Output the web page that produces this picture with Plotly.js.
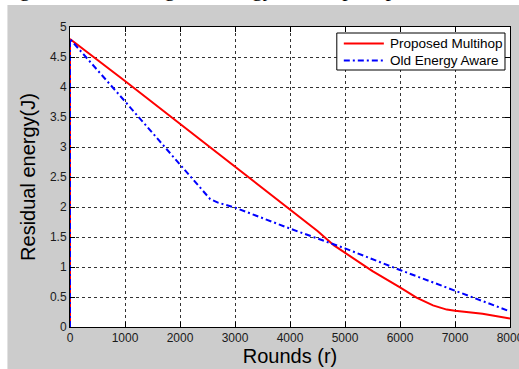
<!DOCTYPE html>
<html>
<head>
<meta charset="utf-8">
<script src="https://cdn.plot.ly/plotly-3.0.1.min.js"></script>
<style>html,body{margin:0;padding:0;background:#fff;}#chart{width:519px;height:369px;}</style>
</head>
<body>
<div id="chart"></div>
<script>
// Data
var multihopRounds = [0, 0, 1000, 2000, 3000, 4000, 4500, 4800, 5000, 5500, 6000, 6300, 6600, 6850, 7000, 7500, 8000];
var multihopEnergy = [0, 4.8, 4.1, 3.39, 2.68, 1.97, 1.6, 1.36, 1.24, 0.93, 0.66, 0.49, 0.36, 0.29, 0.27, 0.22, 0.14];

var oldRounds = [0, 0, 1000, 2000, 2300, 2550, 2700, 3000, 4000, 5000, 6000, 7000, 8000];
var oldEnergy = [0, 4.8, 3.76, 2.7, 2.4, 2.13, 2.07, 1.99, 1.64, 1.31, 0.95, 0.6, 0.26];

var seriesNames = ['Proposed Multihop', 'Old Energy Aware'];
var seriesColors = ['#ff0000', '#0000ff'];
var seriesDash = ['solid', '6px,3px,2px,3px'];

var xTicks = [0, 1000, 2000, 3000, 4000, 5000, 6000, 7000, 8000];
var yTicks = [0, 0.5, 1, 1.5, 2, 2.5, 3, 3.5, 4, 4.5, 5];

var traces = [
  {x: multihopRounds, y: multihopEnergy, type: 'scatter', mode: 'lines', name: seriesNames[0],
   line: {color: seriesColors[0], width: 2, dash: seriesDash[0]}},
  {x: oldRounds, y: oldEnergy, type: 'scatter', mode: 'lines', name: seriesNames[1],
   line: {color: seriesColors[1], width: 2, dash: seriesDash[1]}}
];

var axisCommon = {
  showline: true, linecolor: '#000', linewidth: 1, mirror: 'ticks',
  ticks: 'inside', ticklen: 5, tickcolor: '#000',
  showgrid: true, gridcolor: '#333', gridwidth: 1, griddash: '3px,3px',
  zeroline: false, ticklabeloverflow: 'allow',
  tickfont: {family: 'Liberation Sans, Arial, sans-serif', size: 12, color: '#1a1a1a'}
};

// pixel helpers for the hand-drawn legend box (paper coordinates)
function px(x) { return (x - 70.5) / 439.5; }
function py(y) { return (327 - y) / 300; }

var legendShapes = [
  {type: 'rect', xref: 'paper', yref: 'paper', x0: px(337), x1: px(505), y0: py(70), y1: py(33),
   fillcolor: '#ffffff', line: {color: '#000', width: 1}, layer: 'above'}
];
var legendAnn = [];
var rowY = [43.5, 60.5];
for (var i = 0; i < seriesNames.length; i++) {
  legendShapes.push({type: 'line', xref: 'paper', yref: 'paper', x0: px(344), x1: px(384), y0: py(rowY[i]), y1: py(rowY[i]),
    line: {color: seriesColors[i], width: 2, dash: seriesDash[i]}, layer: 'above'});
  legendAnn.push({text: seriesNames[i], xref: 'paper', yref: 'paper', x: px(388), xanchor: 'left',
    y: py(rowY[i]), yanchor: 'middle', showarrow: false,
    font: {family: 'Liberation Sans, Arial, sans-serif', size: 13.5, color: '#000'}});
}

var layout = {
  width: 519, height: 369,
  margin: {l: 70, r: 9, t: 27, b: 42},
  paper_bgcolor: '#cccccc',
  plot_bgcolor: '#ffffff',
  showlegend: false,
  xaxis: Object.assign({}, axisCommon, {
    range: [0, 8000], tickvals: xTicks, ticktext: xTicks.map(String),
    title: {text: 'Rounds (r)', font: {family: 'Liberation Sans, Arial, sans-serif', size: 20, color: '#000'}, standoff: 2}
  }),
  yaxis: Object.assign({}, axisCommon, {
    range: [0, 5], tickvals: yTicks, ticktext: yTicks.map(String),
    title: {text: 'Residual energy(J)', font: {family: 'Liberation Sans, Arial, sans-serif', size: 20, color: '#000'}, standoff: 8}
  }),
  shapes: [
    {type: 'rect', xref: 'paper', yref: 'paper', x0: -0.2, x1: 1.1, y0: py(5), y1: 1.2,
     fillcolor: '#ffffff', line: {width: 0}, layer: 'below'},
    {type: 'rect', xref: 'paper', yref: 'paper', x0: -0.2, x1: px(8), y0: -0.2, y1: 1.2,
     fillcolor: '#ffffff', line: {width: 0}, layer: 'below'}
  ].concat(legendShapes),
  annotations: [
    {text: 'Fig.6 Residual usage of energy for adopted protocol', xref: 'paper', yref: 'paper',
     x: px(0), xanchor: 'left', y: py(3), yanchor: 'bottom', showarrow: false,
     font: {family: 'Liberation Serif, Times New Roman, serif', size: 22, color: '#000'}}
  ].concat(legendAnn)
};

Plotly.newPlot('chart', traces, layout, {displayModeBar: false, staticPlot: true});
</script>
</body>
</html>
